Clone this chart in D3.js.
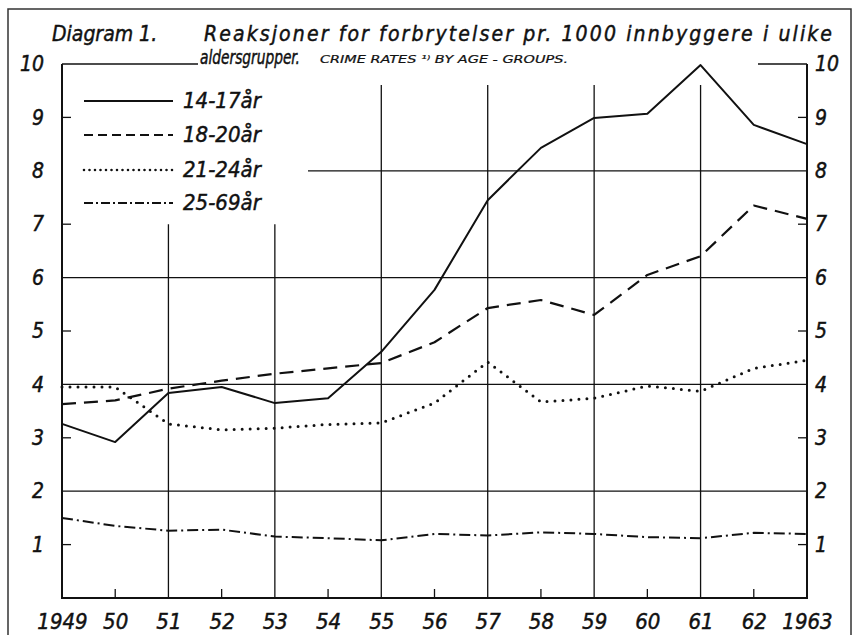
<!DOCTYPE html>
<html>
<head>
<meta charset="utf-8">
<script src="https://cdn.jsdelivr.net/npm/d3@7"></script>
<style>
  body { margin: 0; background: #fff; }
  svg text { font-family: "Liberation Sans Narrow", "DejaVu Sans Condensed", sans-serif; font-style: italic; fill: #111; stroke: #111; stroke-width: 0.45px; }
  svg text.small { font-family: "DejaVu Sans Condensed", sans-serif; stroke-width: 0.2px; }
</style>
</head>
<body>
<svg id="svg" width="853" height="635"></svg>
<script>
// data
var years = [1949, 1950, 1951, 1952, 1953, 1954, 1955, 1956, 1957, 1958, 1959, 1960, 1961, 1962, 1963];
var age1417 = [3.26, 2.92, 3.84, 3.95, 3.65, 3.74, 4.61, 5.77, 7.45, 8.43, 8.99, 9.07, 9.98, 8.86, 8.5];
var age1820 = [3.63, 3.7, 3.92, 4.07, 4.2, 4.3, 4.4, 4.79, 5.43, 5.58, 5.3, 6.05, 6.4, 7.35, 7.1];
var age2124 = [3.95, 3.95, 3.26, 3.15, 3.18, 3.25, 3.28, 3.65, 4.42, 3.67, 3.74, 3.97, 3.87, 4.3, 4.45];
var age2569 = [1.5, 1.35, 1.26, 1.28, 1.15, 1.12, 1.08, 1.2, 1.17, 1.23, 1.2, 1.14, 1.12, 1.22, 1.2];
var seriesNames = ["14-17år", "18-20år", "21-24år", "25-69år"];
var yTicks = [1, 2, 3, 4, 5, 6, 7, 8, 9, 10];

var svg = d3.select("#svg");
var x = d3.scaleLinear().domain([1949, 1963]).range([62, 807]);
var y = d3.scaleLinear().domain([0, 10]).range([598, 64]);

var ink = "#111";
var styles = [
    {dash: null, w: 2},
    {dash: "14,8", w: 2.2},
    {dash: "0,8", w: 3, cap: "round"},
    {dash: "11,4,2,4", w: 2}
];
var legendDash = [null, "9,5", "0,5.5", "9,3,2,3"];

// outer frame
svg.append("rect")
    .attr("x", 8).attr("y", 9).attr("width", 843).attr("height", 640)
    .attr("fill", "none").attr("stroke", "#333").attr("stroke-width", 1.5);

var grid = svg.append("g").attr("stroke", ink).attr("stroke-width", 1.3);

// horizontal grid lines at even values
[2, 4, 6].forEach(function (v) {
    grid.append("line").attr("x1", x(1949)).attr("x2", x(1963)).attr("y1", y(v)).attr("y2", y(v));
});
grid.append("line").attr("x1", 308).attr("x2", x(1963)).attr("y1", y(8)).attr("y2", y(8));
grid.append("line").attr("x1", x(1949)).attr("x2", 198).attr("y1", y(10)).attr("y2", y(10));
grid.append("line").attr("x1", 758).attr("x2", x(1963)).attr("y1", y(10)).attr("y2", y(10));

// vertical grid lines at odd years
var vTops = {1951: y(7), 1953: y(7), 1955: 85, 1957: 85, 1959: 85, 1961: 85};
Object.keys(vTops).forEach(function (k) {
    grid.append("line").attr("x1", x(+k)).attr("x2", x(+k)).attr("y1", vTops[k]).attr("y2", y(0));
});

// frame axes
var axes = svg.append("g").attr("stroke", ink).attr("stroke-width", 2).attr("fill", "none");
axes.append("path").attr("d", "M" + x(1949) + "," + y(10) + "V" + y(0) + "H" + x(1963) + "V" + y(10));

// small ticks at odd values, even years
yTicks.filter(function (v) { return v % 2 === 1; }).forEach(function (v) {
    grid.append("line").attr("x1", x(1949)).attr("x2", x(1949) + 9).attr("y1", y(v)).attr("y2", y(v));
    grid.append("line").attr("x1", x(1963) - 9).attr("x2", x(1963)).attr("y1", y(v)).attr("y2", y(v));
});
years.filter(function (yr) { return yr % 2 === 0; }).forEach(function (yr) {
    grid.append("line").attr("x1", x(yr)).attr("x2", x(yr)).attr("y1", y(0)).attr("y2", y(0) - 9);
});

// axis labels
var bottom = svg.append("g").attr("transform", "translate(0," + y(0) + ")")
    .call(d3.axisBottom(x).tickValues(years).tickSize(0).tickPadding(10)
        .tickFormat(function (d) { return (d === 1949 || d === 1963) ? d : String(d).slice(2); }));
bottom.select(".domain").remove();
bottom.selectAll("text").attr("font-size", 22).attr("dy", "0.95em").attr("font-family", null);

var left = svg.append("g").attr("transform", "translate(44,0)")
    .call(d3.axisLeft(y).tickValues(yTicks).tickSize(0).tickPadding(0));
left.select(".domain").remove();
left.selectAll("text").attr("font-size", 21).attr("font-family", null);

var right = svg.append("g").attr("transform", "translate(815,0)")
    .call(d3.axisRight(y).tickValues(yTicks).tickSize(0).tickPadding(0));
right.select(".domain").remove();
right.selectAll("text").attr("font-size", 21).attr("font-family", null);

// series lines
var line = d3.line().x(function (d) { return x(d[0]); }).y(function (d) { return y(d[1]); });
[age1417, age1820, age2124, age2569].forEach(function (vals, i) {
    svg.append("path")
        .datum(years.map(function (yr, j) { return [yr, vals[j]]; }))
        .attr("d", line)
        .attr("fill", "none")
        .attr("stroke", ink)
        .attr("stroke-width", styles[i].w)
        .attr("stroke-dasharray", styles[i].dash)
        .attr("stroke-linecap", styles[i].cap || "butt")
        .attr("stroke-linejoin", "round");
});

// legend
var legRows = [101, 135, 170, 203];
seriesNames.forEach(function (name, i) {
    svg.append("line")
        .attr("x1", 84).attr("x2", 173).attr("y1", legRows[i]).attr("y2", legRows[i])
        .attr("stroke", ink)
        .attr("stroke-width", i === 2 ? 2.6 : 2)
        .attr("stroke-dasharray", legendDash[i])
        .attr("stroke-linecap", i === 2 ? "round" : "butt");
    svg.append("text").attr("x", 183).attr("y", legRows[i] + 7)
        .attr("font-size", 22).text(name);
});

// title
svg.append("text").attr("x", 52).attr("y", 41).attr("font-size", 21)
    .text("Diagram 1.");
svg.append("text").attr("x", 204).attr("y", 41).attr("font-size", 21)
    .attr("textLength", 628).attr("lengthAdjust", "spacing")
    .text("Reaksjoner for forbrytelser pr. 1000 innbyggere i ulike");
svg.append("text").attr("x", 200).attr("y", 64).attr("font-size", 19)
    .attr("textLength", 100).attr("lengthAdjust", "spacingAndGlyphs")
    .text("aldersgrupper.");
svg.append("text").attr("class", "small").attr("x", 320).attr("y", 63).attr("font-size", 11)
    .attr("textLength", 248).attr("lengthAdjust", "spacingAndGlyphs")
    .text("CRIME RATES \u00B9\u207E BY AGE - GROUPS.");
</script>
</body>
</html>
